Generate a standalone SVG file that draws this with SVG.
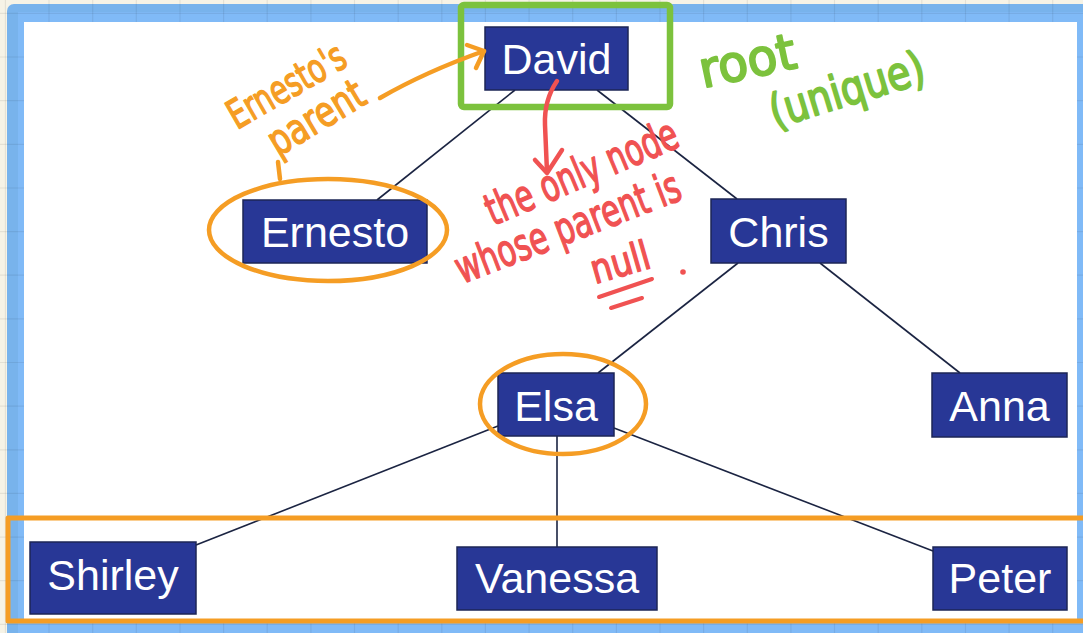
<svg xmlns="http://www.w3.org/2000/svg" width="1083" height="633" viewBox="0 0 1083 633">
  <defs>
    <style>
      .node rect { fill: #283796; stroke: #1c2656; stroke-width: 1.5; }
      .node text { fill: #ffffff; font-family: "Liberation Sans", Arial, sans-serif; font-size: 43px; text-anchor: middle; }
      .edge { stroke: #1b2442; stroke-width: 1.6; fill: none; }
      .grid { stroke: #000000; stroke-opacity: 0.07; stroke-width: 1.2; }
      .ink { font-family: "DejaVu Sans", "Liberation Sans", sans-serif; stroke-linejoin: round; stroke-linecap: round; }
      .orange { fill: #f59d24; stroke: #f59d24; }
      .green { fill: #7cc23d; stroke: #7cc23d; }
      .red { fill: #f05252; stroke: #f05252; }
      .mark { fill: none; stroke-linecap: round; stroke-linejoin: round; }
    </style>
  </defs>

  <!-- canvas background -->
  <rect x="0" y="0" width="1083" height="633" fill="#f6f3e6"/>

  <!-- slide frame -->
  <rect x="7" y="4" width="1090" height="640" rx="7" fill="#78b3ec"/>
  <rect x="18" y="12" width="1080" height="630" fill="#80baf7"/>

  <!-- grid -->
  <g class="grid">
    <line x1="5.4" y1="0" x2="5.4" y2="633"/>
    <line x1="49" y1="0" x2="49" y2="633"/>
    <line x1="92.7" y1="0" x2="92.7" y2="633"/>
    <line x1="136.3" y1="0" x2="136.3" y2="633"/>
    <line x1="180" y1="0" x2="180" y2="633"/>
    <line x1="223.6" y1="0" x2="223.6" y2="633"/>
    <line x1="267.2" y1="0" x2="267.2" y2="633"/>
    <line x1="310.9" y1="0" x2="310.9" y2="633"/>
    <line x1="354.5" y1="0" x2="354.5" y2="633"/>
    <line x1="398.2" y1="0" x2="398.2" y2="633"/>
    <line x1="441.8" y1="0" x2="441.8" y2="633"/>
    <line x1="485.4" y1="0" x2="485.4" y2="633"/>
    <line x1="529.1" y1="0" x2="529.1" y2="633"/>
    <line x1="572.7" y1="0" x2="572.7" y2="633"/>
    <line x1="616.4" y1="0" x2="616.4" y2="633"/>
    <line x1="660" y1="0" x2="660" y2="633"/>
    <line x1="703.6" y1="0" x2="703.6" y2="633"/>
    <line x1="747.3" y1="0" x2="747.3" y2="633"/>
    <line x1="790.9" y1="0" x2="790.9" y2="633"/>
    <line x1="834.5" y1="0" x2="834.5" y2="633"/>
    <line x1="878.2" y1="0" x2="878.2" y2="633"/>
    <line x1="921.8" y1="0" x2="921.8" y2="633"/>
    <line x1="965.5" y1="0" x2="965.5" y2="633"/>
    <line x1="1009.1" y1="0" x2="1009.1" y2="633"/>
    <line x1="1052.7" y1="0" x2="1052.7" y2="633"/>
    <line x1="0" y1="13.4" x2="1083" y2="13.4"/>
    <line x1="0" y1="57" x2="1083" y2="57"/>
    <line x1="0" y1="100.7" x2="1083" y2="100.7"/>
    <line x1="0" y1="144.3" x2="1083" y2="144.3"/>
    <line x1="0" y1="188" x2="1083" y2="188"/>
    <line x1="0" y1="231.6" x2="1083" y2="231.6"/>
    <line x1="0" y1="275.2" x2="1083" y2="275.2"/>
    <line x1="0" y1="318.9" x2="1083" y2="318.9"/>
    <line x1="0" y1="362.5" x2="1083" y2="362.5"/>
    <line x1="0" y1="406.2" x2="1083" y2="406.2"/>
    <line x1="0" y1="449.8" x2="1083" y2="449.8"/>
    <line x1="0" y1="493.4" x2="1083" y2="493.4"/>
    <line x1="0" y1="537.1" x2="1083" y2="537.1"/>
    <line x1="0" y1="580.7" x2="1083" y2="580.7"/>
    <line x1="0" y1="624.4" x2="1083" y2="624.4"/>
  </g>

  <!-- slide page -->
  <rect x="24" y="22" width="1053" height="601" fill="#ffffff"/>

  <!-- tree edges -->
  <g id="connectors">
    <line class="edge" x1="515" y1="90" x2="377" y2="200"/>
    <line class="edge" x1="597" y1="90" x2="737" y2="199"/>
    <line class="edge" x1="738" y1="263" x2="598" y2="373"/>
    <line class="edge" x1="820" y1="263" x2="960" y2="373"/>
    <line class="edge" x1="498" y1="426" x2="196" y2="545"/>
    <line class="edge" x1="557" y1="436" x2="557" y2="547"/>
    <line class="edge" x1="614" y1="428" x2="933" y2="551"/>
  </g>

  <!-- nodes -->
  <g id="david" class="node">
    <rect x="485" y="27" width="143" height="63"/>
    <text x="556.5" y="74">David</text>
  </g>
  <g id="ernesto" class="node">
    <rect x="243" y="200" width="184" height="63"/>
    <text x="335" y="247">Ernesto</text>
  </g>
  <g id="chris" class="node">
    <rect x="711" y="199" width="135" height="64"/>
    <text x="778.5" y="247">Chris</text>
  </g>
  <g id="elsa" class="node">
    <rect x="498" y="373" width="116" height="63"/>
    <text x="556" y="421">Elsa</text>
  </g>
  <g id="anna" class="node">
    <rect x="932" y="373" width="135" height="64"/>
    <text x="999.5" y="421">Anna</text>
  </g>
  <g id="shirley" class="node">
    <rect x="30" y="542" width="166" height="72"/>
    <text x="113" y="590">Shirley</text>
  </g>
  <g id="vanessa" class="node">
    <rect x="457" y="547" width="200" height="63"/>
    <text x="557" y="593">Vanessa</text>
  </g>
  <g id="peter" class="node">
    <rect x="933" y="547" width="134" height="63"/>
    <text x="1000" y="593">Peter</text>
  </g>

  <!-- green: root highlight -->
  <g id="root-note">
    <rect x="461" y="5" width="209" height="102" rx="3" class="mark" stroke="#7cc23d" stroke-width="6.5"/>
    <text class="ink green" transform="translate(703,88) rotate(-12)" font-size="50" stroke-width="2" textLength="98" lengthAdjust="spacingAndGlyphs">root</text>
    <text class="ink green" transform="translate(775,128) rotate(-17)" font-size="46" stroke-width="2" textLength="160" lengthAdjust="spacingAndGlyphs">(unique)</text>
  </g>

  <!-- orange: Ernesto's parent -->
  <g id="parent-note">
    <text class="ink orange" transform="translate(237,130) rotate(-30)" font-size="40" stroke-width="1.5" textLength="130" lengthAdjust="spacingAndGlyphs">Ernesto's</text>
    <text class="ink orange" transform="translate(278,157) rotate(-31)" font-size="42" stroke-width="1.5" textLength="106" lengthAdjust="spacingAndGlyphs">parent</text>
    <path class="mark" stroke="#f59d24" stroke-width="4.5" d="M380 98 Q425 72 484 51"/>
    <path class="mark" stroke="#f59d24" stroke-width="4.5" d="M467 45 L484 51 L476 68"/>
    <path class="mark" stroke="#f59d24" stroke-width="4.5" d="M278 162 L280 179"/>
    <ellipse cx="328" cy="230" rx="119" ry="51" class="mark" stroke="#f59d24" stroke-width="4.5"/>
  </g>

  <!-- orange: Elsa and leaf row -->
  <g id="elsa-mark">
    <ellipse cx="563" cy="404" rx="83" ry="50" class="mark" stroke="#f59d24" stroke-width="4.5"/>
  </g>
  <g id="leaves-mark">
    <rect x="8" y="518" width="1090" height="103" class="mark" stroke="#f59d24" stroke-width="5"/>
  </g>

  <!-- red: null parent note -->
  <g id="null-note">
    <path class="mark" stroke="#f05252" stroke-width="4.5" d="M557 81 Q544 100 545 125 L547 172"/>
    <path class="mark" stroke="#f05252" stroke-width="4.5" d="M535 160 L547 173 L562 150"/>
    <text class="ink red" transform="translate(493,226) rotate(-23)" font-size="44" stroke-width="1.5" textLength="205" lengthAdjust="spacingAndGlyphs">the only node</text>
    <text class="ink red" transform="translate(462,284) rotate(-21)" font-size="44" stroke-width="1.5" textLength="238" lengthAdjust="spacingAndGlyphs">whose parent is</text>
    <text class="ink red" transform="translate(595,284) rotate(-16)" font-size="40" stroke-width="1.5" textLength="60" lengthAdjust="spacingAndGlyphs">null</text>
    <path class="mark" stroke="#f05252" stroke-width="4" d="M599 297 L652 279"/>
    <path class="mark" stroke="#f05252" stroke-width="4" d="M611 308 L642 298"/>
    <circle cx="683" cy="272" r="2.8" fill="#f05252"/>
  </g>
</svg>
